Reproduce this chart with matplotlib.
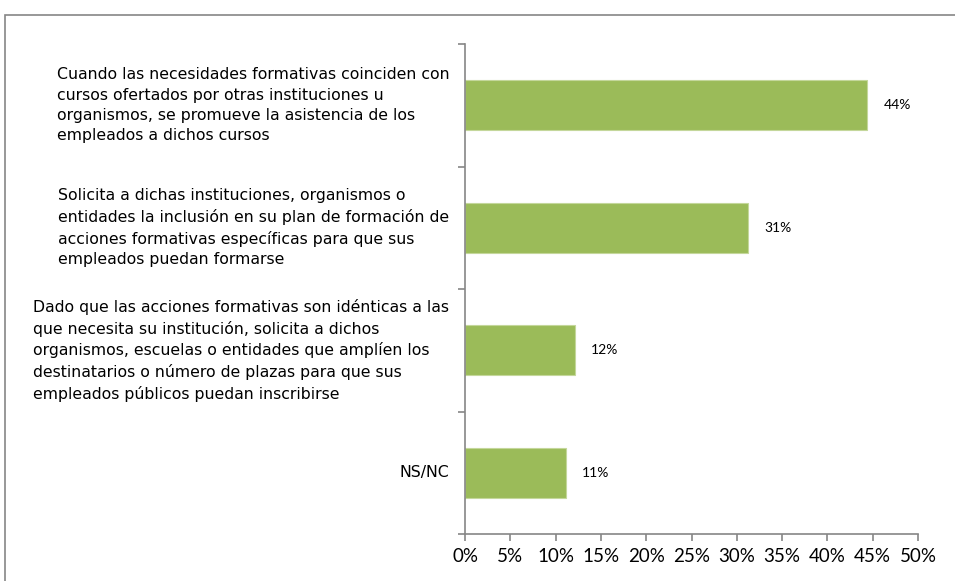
import matplotlib.pyplot as plt
import matplotlib.patches as mpatches
import numpy as np

# %% data
categorias = [
    "Cuando las necesidades formativas coinciden con\ncursos ofertados por otras instituciones u\norganismos, se promueve la asistencia de los\nempleados a dichos cursos",
    "Solicita a dichas instituciones, organismos o\nentidades la inclusión en su plan de formación de\nacciones formativas específicas para que sus\nempleados puedan formarse",
    "Dado que las acciones formativas son idénticas a las\nque necesita su institución, solicita a dichos\norganismos, escuelas o entidades que amplíen los\ndestinatarios o número de plazas para que sus\nempleados públicos puedan inscribirse",
    "NS/NC",
]
valores = [44.4, 31.2, 12.1, 11.1]
xticks = [0, 5, 10, 15, 20, 25, 30, 35, 40, 45, 50]

# %% colours
cBar = "#9BBB59"
cAxis = "#868686"

fig = plt.figure(figsize=(9.55, 5.81), dpi=100)
ax = fig.add_axes([465/955, 1 - 534/581, (918 - 465)/955, (534 - 44)/581])

# outer frame of the chart area
frame = mpatches.Rectangle((5/955, -0.1), 1.2, 1 - 15/581 + 0.1, transform=fig.transFigure,
                           fill=False, edgecolor=cAxis, linewidth=1.2, clip_on=False)
fig.patches.append(frame)

y = np.arange(len(valores))
ax.barh(y, valores, height=0.41, color=cBar, edgecolor="#C4D79B", linewidth=0.8)
ax.set_ylim(len(valores) - 0.5, -0.5)
ax.set_xlim(0, 50)

for yi, v in zip(y, valores):
    ax.text(v + 1.8, yi, f"{v:.0f}%", va="center", ha="left", fontsize=10,
            family="Lato", color="#000000")

ax.set_xticks(xticks)
ax.set_xticklabels([f"{t}%" for t in xticks], fontsize=13.5, family="Lato")
ax.set_yticks(np.arange(-0.5, len(valores), 1.0))
ax.set_yticklabels([])
ax.tick_params(axis="y", direction="out", length=5, color=cAxis, width=1.2)
ax.tick_params(axis="x", direction="out", length=5, color=cAxis, width=1.2, pad=5)

for yi, lab in zip(y, categorias):
    ax.text(-0.035, yi, lab, transform=ax.get_yaxis_transform(), ha="right", va="center",
            multialignment="left", fontsize=11.3, family="DejaVu Sans", linespacing=1.44,
            color="#000000")

for s in ["top", "right"]:
    ax.spines[s].set_visible(False)
for s in ["left", "bottom"]:
    ax.spines[s].set_color(cAxis)
    ax.spines[s].set_linewidth(1.2)

fig.savefig("out.png", dpi=100)
